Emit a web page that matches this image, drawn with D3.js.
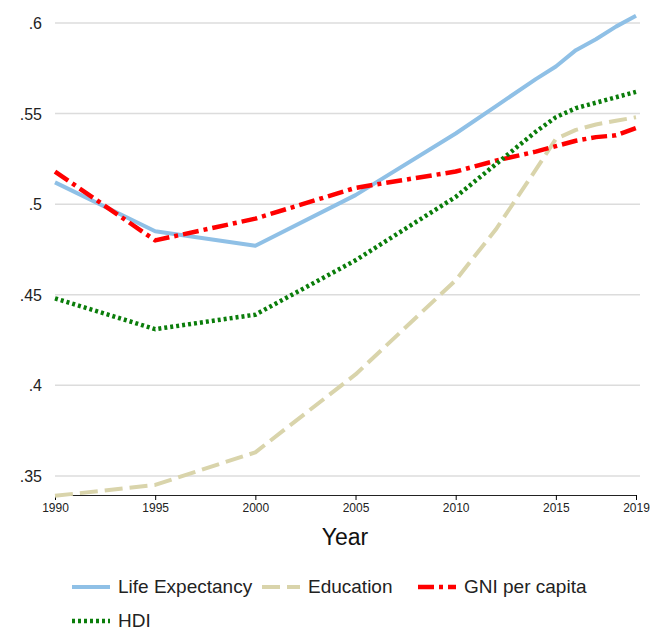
<!DOCTYPE html>
<html><head><meta charset="utf-8">
<script src="https://cdn.jsdelivr.net/npm/d3@7"></script>
<style>body{margin:0;background:#fff}text{font-family:"Liberation Sans",Arial,sans-serif}</style>
</head><body>
<script>
var years = [1990, 1995, 2000, 2005, 2010, 2012, 2014, 2015, 2016, 2017, 2018, 2019];
var lifeExp = [.512, .485, .477, .505, .539, .554, .569, .576, .585, .591, .598, .604];
var education = [.339, .345, .363, .406, .458, .486, .519, .536, .541, .544, .546, .548];
var gni = [.518, .480, .492, .509, .518, .524, .529, .532, .535, .537, .538, .542];
var hdi = [.448, .431, .439, .469, .504, .522, .540, .548, .553, .556, .559, .562];
var yTicks = [.35, .4, .45, .5, .55, .6];
var xTicks = [1990, 1995, 2000, 2005, 2010, 2015, 2019];

var series = [
	{name: 'Life Expectancy', vals: lifeExp, color: '#8fc0e6', dash: null, w: 4},
	{name: 'Education', vals: education, color: '#d9d4ab', dash: '18,7', w: 4},
	{name: 'GNI per capita', vals: gni, color: '#ff0000', dash: '16,5,4,5', w: 4.5},
	{name: 'HDI', vals: hdi, color: '#0a7d0a', dash: '3,3', w: 4.5}
];

var svg = d3.select('body').append('svg').attr('width', 654).attr('height', 631);
var x = d3.scaleLinear().domain([1990, 2019]).range([55, 636]);
var y = d3.scaleLinear().domain([.34, .6]).range([494, 23]);

// сетка
svg.selectAll('.grid').data(yTicks).enter().append('line')
	.attr('x1', 55).attr('x2', 640)
	.attr('y1', function(d) { return y(d); }).attr('y2', function(d) { return y(d); })
	.attr('stroke', '#dcdcdc').attr('stroke-width', 1.5);

svg.selectAll('.ylab').data(yTicks).enter().append('text')
	.attr('x', 42).attr('y', function(d) { return y(d) + 6; })
	.attr('text-anchor', 'end').attr('font-size', 16).attr('fill', '#222')
	.text(function(d) { return d3.format('.2f')(d).replace(/^0/, '').replace(/0$/, ''); });

var xa = svg.append('g').attr('transform', 'translate(0,495)')
	.call(d3.axisBottom(x).tickValues(xTicks).tickFormat(d3.format('d')).tickSize(5));
xa.select('.domain').attr('stroke', '#222');
xa.selectAll('text').attr('font-size', 12).attr('fill', '#222').attr('font-family', '"Liberation Sans",Arial,sans-serif');

svg.append('text').attr('x', 345).attr('y', 545).attr('text-anchor', 'middle')
	.attr('font-size', 23).attr('fill', '#111').text('Year');

var line = d3.line().x(function(d, i) { return x(years[i]); }).y(function(d) { return y(d); });
series.forEach(function(s) {
	svg.append('path').attr('d', line(s.vals)).attr('fill', 'none')
		.attr('stroke', s.color).attr('stroke-width', s.w)
		.attr('stroke-dasharray', s.dash).attr('stroke-linejoin', 'round');
});

// легенда
var legPos = [[72, 587], [262, 587], [418, 587], [72, 621]];
series.forEach(function(s, i) {
	var g = svg.append('g').attr('transform', 'translate(' + legPos[i][0] + ',' + legPos[i][1] + ')');
	g.append('line').attr('x1', 0).attr('x2', 38).attr('stroke', s.color)
		.attr('stroke-width', s.w).attr('stroke-dasharray', s.dash);
	g.append('text').attr('x', 46).attr('y', 6).attr('font-size', 19).attr('fill', '#222').text(s.name);
});
</script>
</body></html>
